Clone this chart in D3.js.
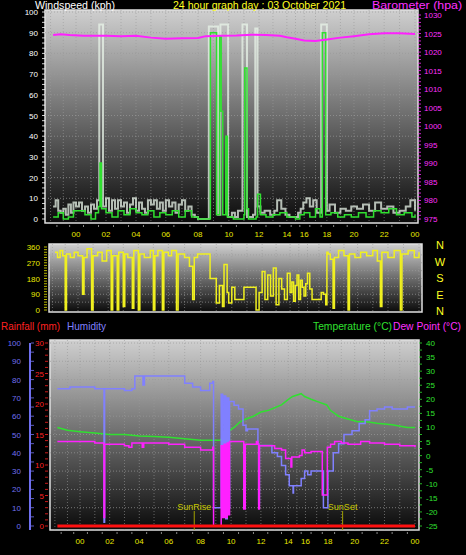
<!DOCTYPE html>
<html><head><meta charset="utf-8">
<script src="https://cdn.jsdelivr.net/npm/d3@7"></script>
<style>
body{margin:0;background:#000;}
svg{display:block;font-family:"Liberation Sans",sans-serif;}
</style></head>
<body>
<svg width="466" height="555"></svg>
<script>
// hour labels along the bottom of each panel
let hourLabels = ["00","02","04","06","08","10","12","14","16","18","20","22","00"];
let hourTicks = [0,2,4,6,8,10,12,14,16,18,20,22,24];
// the original's time axis is not evenly spaced, these are the label fractions
let hourFrac = [0,0.0885,0.177,0.265,0.360,0.451,0.540,0.622,0.673,0.740,0.820,0.909,1];

// windspeed gust (white) and average (green), [hour, kph]
let windGust = [[-1.8,6],[-1.6,9],[-1.4,4],[-1.2,3],[-1,5],[-0.8,2],[-0.6,7],[-0.4,3],[-0.2,8],[0,6],[0.2,8],[0.4,4],[0.6,6],[0.8,3],[1,7],[1.2,5],[1.4,9],[1.55,94],[1.7,94],[1.8,6],[2,10],[2.2,4],[2.4,9],[2.6,5],[2.8,9],[3,6],[3.2,8],[3.4,3],[3.6,7],[3.8,10],[4,4],[4.2,8],[4.4,5],[4.6,3],[4.8,9],[5,7],[5.2,9],[5.4,5],[5.6,8],[5.8,4],[6,9],[6.2,6],[6.4,8],[6.6,3],[6.8,7],[7,9],[7.2,4],[7.4,6],[7.6,2],[7.8,1],[8,0],[8.6,0],[8.7,93],[9.2,93],[9.3,2],[9.45,94],[9.85,94],[9.95,1],[10.2,3],[10.4,1],[10.6,4],[10.9,94],[11.1,94],[11.2,1],[11.6,2],[11.75,92],[11.85,92],[11.9,6],[12.1,3],[12.4,4],[12.8,2],[13.1,4],[13.3,9],[13.6,5],[13.9,2],[14.3,1],[15,1],[15.3,3],[15.6,5],[15.9,8],[16.2,10],[16.5,6],[16.8,9],[17.1,3],[17.5,94],[17.9,94],[18,4],[18.2,7],[18.6,3],[19,5],[19.4,4],[19.8,6],[20.2,5],[20.6,7],[21,4],[21.4,8],[21.8,5],[22.2,6],[22.6,3],[23,4],[23.4,6],[23.7,9],[24,4]];
let windAvg = [[-1.8,1],[-1.4,3],[-1,0],[-0.6,1],[-0.2,4],[0.2,4],[0.6,2],[1,0],[1.3,3],[1.5,6],[1.6,27],[1.7,5],[2,3],[2.4,1],[2.8,4],[3.2,2],[3.6,5],[4,3],[4.4,2],[4.8,4],[5.2,1],[5.6,3],[6,2],[6.4,4],[6.8,1],[7.2,4],[7.6,1],[8,0],[8.75,0],[8.8,90],[9.1,90],[9.2,2],[9.4,88],[9.5,52],[9.6,2],[9.8,40],[9.9,1],[10.3,0],[11,2],[11.05,73],[11.2,5],[11.3,0],[11.8,1],[11.9,12],[12.1,2],[12.5,1],[13,2],[13.5,3],[14,1],[15,0],[15.5,2],[16,3],[16.5,1],[17,5],[17.4,1],[17.6,90],[17.8,90],[17.9,2],[18.3,3],[18.8,1],[19.3,2],[19.8,1],[20.3,3],[20.8,1],[21.3,4],[21.8,3],[22.3,5],[22.8,2],[23.3,3],[23.8,1],[24,2]];
// barometer, [hour, hpa]
let baro = [[-1.8,1024.6],[-1.2,1024.8],[-0.5,1024.6],[0.5,1024.4],[2,1024.4],[3,1024.3],[4,1024.4],[5,1023.9],[6,1023.6],[7,1023.7],[8,1023.8],[8.5,1024.3],[9.5,1024.4],[10.5,1024.5],[11.5,1024.7],[12.5,1024.6],[13.5,1024.4],[14,1024.0],[15,1023.6],[16,1023.1],[17,1023.0],[18,1023.4],[19,1023.9],[20,1024.3],[21,1024.8],[22,1025.1],[23,1025.1],[24,1024.9]];
// wind direction, [hour, degrees]
let windDir = [[-1.8,330],[-1.6,300],[-1.4,340],[-1.2,310],[-1.0,0],[-0.9,320],[-0.6,300],[-0.3,330],[0,310],[0.3,90],[0.4,300],[0.6,350],[0.9,0],[1.0,310],[1.3,330],[1.6,280],[1.9,340],[2.2,0],[2.3,310],[2.6,0],[2.7,330],[3.0,20],[3.1,320],[3.3,300],[3.6,10],[3.7,340],[4.0,0],[4.1,320],[4.4,300],[4.8,340],[5.0,0],[5.1,310],[5.3,340],[5.6,0],[5.7,330],[6.0,310],[6.2,340],[6.5,0],[6.6,320],[7.0,300],[7.3,250],[7.5,60],[7.6,300],[7.8,320],[8.5,320],[8.6,180],[8.9,180],[9.0,40],[9.2,140],[9.4,20],[9.5,260],[9.7,100],[9.8,40],[10.0,130],[10.2,60],[10.5,60],[10.8,130],[11.5,130],[11.6,0],[11.8,100],[12.0,220],[12.2,60],[12.4,200],[12.6,80],[12.8,240],[13.0,30],[13.2,180],[13.4,120],[13.6,60],[13.8,210],[14.0,100],[14.2,160],[14.4,50],[14.6,140],[14.8,200],[15.0,60],[15.2,170],[15.4,130],[15.6,80],[15.8,150],[16.0,210],[16.2,120],[16.4,60],[16.6,60],[17.0,60],[17.2,100],[17.4,90],[17.6,30],[17.7,330],[17.8,320],[18.0,290],[18.2,10],[18.3,300],[18.6,340],[19.0,310],[19.3,0],[19.4,320],[19.8,300],[20.2,330],[20.6,310],[21.0,340],[21.3,280],[21.5,20],[21.6,330],[22.0,300],[22.4,340],[22.8,0],[22.9,320],[23.3,340],[23.7,300],[24.0,330]];
// humidity %, temperature and dew point degC, rainfall mm
let humidity = [[-1.8,75],[-0.8,76],[0.5,76],[1,75],[1.6,75],[1.62,2],[1.66,75],[2.5,75],[3,74],[3.5,75],[3.7,82],[4.2,82],[4.25,77],[4.35,82],[5,82],[6,82],[7,78],[7.5,76],[8,74],[8.3,74],[8.6,78],[8.8,79],[8.85,10],[9.3,10],[9.35,72],[9.45,5],[9.55,71],[9.65,4],[9.75,70],[9.85,10],[9.9,68],[10.2,66],[10.5,64],[10.8,55],[11.0,52],[11.1,53],[11.6,53],[11.8,45],[11.85,12],[11.9,44],[12.4,44],[12.8,40],[13.2,38],[13.5,33],[13.8,28],[14.1,22],[14.5,22],[14.55,18],[14.6,22],[15.2,22],[15.5,26],[15.9,30],[16.2,28],[16.5,30],[17.0,30],[17.55,30],[17.6,10],[17.95,10],[18.0,30],[18.4,40],[18.8,45],[19.2,50],[19.8,52],[20.3,56],[20.7,58],[21.0,63],[21.5,64],[22.0,65],[22.5,64],[23,64],[23.5,65],[24,65]];
let temperature = [[-1.8,10],[-1,9],[0,8.5],[1,8],[2,7.5],[3,7.5],[4,7],[5,6.8],[6,6.5],[7,6],[8,5.5],[9.3,5.5],[9.5,7],[9.8,8.5],[10.2,10],[10.6,12],[11,13],[11.5,14],[12,15.5],[12.5,16],[13,17],[13.5,18],[14,20],[14.5,21],[15.5,22],[15.9,21],[16.5,20],[17.2,19],[17.9,18],[18.2,16],[18.8,14],[19.5,13],[20.2,12],[20.8,12],[21.5,11.5],[22.5,11],[23.5,10],[24,10]];
let dewPoint = [[-1.8,5],[0,5],[1,4.5],[1.6,4],[1.62,-22],[1.66,4],[3,3.5],[3.3,3],[3.5,4.5],[4.1,4.5],[4.2,3],[4.3,4.5],[5,4.5],[6,4],[7,3],[8,2],[8.5,2],[8.8,3],[8.85,-25],[9.3,-25],[9.35,3.5],[9.45,-22],[9.55,4],[9.65,-22],[9.75,4.5],[9.85,-21],[9.9,5],[10.8,5],[10.85,-19],[10.95,4],[11.5,4],[11.7,5],[11.8,4],[11.85,-19],[11.9,3.5],[12.5,3.5],[13,2.5],[13.5,2],[13.8,-1],[14.2,-1],[14.3,-4],[14.4,-0.5],[15.3,0],[15.6,2],[15.9,1],[16.5,1.5],[17.45,1.5],[17.5,-14],[17.9,-14],[17.95,3],[18.2,4],[18.5,5],[19,4.5],[19.5,4],[20.2,4],[20.4,5],[21,4.5],[22,4],[23,3.5],[24,3]];
let rainfall = [[-1.8,0],[24,0]];
let sunEvents = [["SunRise",7.6],["SunSet",19.1]];

let svg = d3.select("svg");
let defs = svg.append("defs");
let grad = defs.append("linearGradient").attr("id","bg").attr("x1",0).attr("x2",0).attr("y1",0).attr("y2",1);
grad.append("stop").attr("offset","0%").attr("stop-color","#cfcfcf");
grad.append("stop").attr("offset","100%").attr("stop-color","#0a0a0a");

// piecewise time scale through the label positions
let timeScale = function(x0, x1) {
  let w = x1 - x0;
  let dom = [-2.1].concat(hourTicks).concat([24.2]);
  let rng = [x0 - 2.1 * w * 0.0375].concat(hourFrac.map(f => x0 + f * w)).concat([x1 + 0.2 * w * 0.0375]);
  return d3.scaleLinear().domain(dom).range(rng);
};

let panel = function(left, top, right, bottom) {
  let g = svg.append("g");
  g.append("rect").attr("x", left).attr("y", top).attr("width", right - left).attr("height", bottom - top)
    .attr("fill", "url(#bg)").attr("stroke", "#e0e0e0").attr("stroke-width", 1.5);
  return g;
};

let hgrid = function(g, y, ticks, left, right) {
  g.selectAll(null).data(ticks).enter().append("line")
    .attr("x1", left).attr("x2", right).attr("y1", d => y(d)).attr("y2", d => y(d))
    .attr("stroke", "#9a9a9a").attr("stroke-dasharray", "1,2").attr("stroke-opacity", 0.7);
};
let vgrid = function(g, x, top, bottom) {
  g.selectAll(null).data(d3.range(-2, 25)).enter().append("line")
    .attr("x1", d => x(d)).attr("x2", d => x(d)).attr("y1", top).attr("y2", bottom)
    .attr("stroke", "#9a9a9a").attr("stroke-dasharray", "1,2").attr("stroke-opacity", 0.6);
};
let xLabels = function(x, y) {
  svg.selectAll(null).data(hourTicks).enter().append("text")
    .attr("x", d => x(d)).attr("y", y).attr("text-anchor", "middle")
    .attr("fill", "#e8e800").attr("font-size", 8).text((d, i) => hourLabels[i]);
  svg.selectAll(null).data(d3.range(-1.5, 24.5, 1)).enter().append("line")
    .attr("x1", d => x(d)).attr("x2", d => x(d)).attr("y1", y - 12).attr("y2", y - 10)
    .attr("stroke", "#888");
};
let yTicks = function(y, ticks, xPos, anchor, color, tickX, tickDir, minor) {
  svg.selectAll(null).data(ticks).enter().append("text")
    .attr("x", xPos).attr("y", d => y(d) + 3).attr("text-anchor", anchor)
    .attr("fill", color).attr("font-size", 8).text(d => d);
  svg.selectAll(null).data(minor).enter().append("line")
    .attr("x1", tickX).attr("x2", tickX + tickDir * 3).attr("y1", d => y(d)).attr("y2", d => y(d))
    .attr("stroke", color).attr("stroke-opacity", 0.8);
};
let header = function(x, y, anchor, color, len, txt) {
  svg.append("text").attr("x", x).attr("y", y).attr("text-anchor", anchor).attr("fill", color)
    .attr("font-size", 11).attr("textLength", len).attr("lengthAdjust", "spacingAndGlyphs").text(txt);
};
let line = (x, y, curve) => d3.line().x(d => x(d[0])).y(d => y(d[1])).curve(curve || d3.curveLinear);

/* ---------- top panel: wind speed and barometer ---------- */
let t = { left: 45, top: 10, right: 418, bottom: 223 };
let gTop = panel(t.left, t.top, t.right, t.bottom);
let xTop = timeScale(76, 415);
let speedScale = d3.scaleLinear().domain([0, 100]).range([219, 12]);
let baroScale = d3.scaleLinear().domain([975, 1030]).range([219, 15]);
hgrid(gTop, speedScale, d3.range(10, 101, 10), t.left, t.right);
vgrid(gTop, xTop, t.top, t.bottom);
gTop.append("path").datum(windGust).attr("d", line(xTop, speedScale, d3.curveStepAfter))
  .attr("fill", "none").attr("stroke", "#e8f4e8").attr("stroke-width", 2).attr("stroke-opacity", 0.75);
gTop.append("path").datum(windAvg).attr("d", line(xTop, speedScale, d3.curveStepAfter))
  .attr("fill", "none").attr("stroke", "#30e030").attr("stroke-width", 1.5);
gTop.append("path").datum(baro).attr("d", line(xTop, baroScale))
  .attr("fill", "none").attr("stroke", "#ff20ff").attr("stroke-width", 2);
yTicks(speedScale, d3.range(0, 101, 10), 38, "end", "#ffffff", 42, 1, d3.range(0, 101, 2.5));
yTicks(baroScale, d3.range(975, 1031, 5), 424, "start", "#ff30ff", 418, 1, d3.range(975, 1031, 1));
xLabels(xTop, 237);
header(35, 9, "start", "#ffffff", 80, "Windspeed (kph)");
header(173, 9, "start", "#ffff20", 173, "24 hour graph day : 03 October 2021");
header(372, 9, "start", "#ff30ff", 90, "Barometer (hpa)");

/* ---------- middle panel: wind direction ---------- */
let m = { left: 49, top: 244, right: 422, bottom: 312 };
let gMid = panel(m.left, m.top, m.right, m.bottom);
let xMid = timeScale(78, 419);
let dirScale = d3.scaleLinear().domain([0, 360]).range([310, 247]);
hgrid(gMid, dirScale, [45, 90, 135, 180, 225, 270, 315], m.left, m.right);
vgrid(gMid, xMid, m.top, m.bottom);
gMid.append("path").datum(windDir).attr("d", line(xMid, dirScale, d3.curveStepAfter))
  .attr("fill", "none").attr("stroke", "#f0f020").attr("stroke-width", 1.5);
yTicks(dirScale, [0, 90, 180, 270, 360], 40, "end", "#e8e800", 44, 1, d3.range(0, 361, 15));
svg.selectAll(null).data(["N", "W", "S", "E", "N"]).enter().append("text")
  .attr("x", 440).attr("y", (d, i) => 249 + i * 16.5).attr("text-anchor", "middle")
  .attr("fill", "#ffff20").attr("font-size", 11).text(d => d);

/* ---------- bottom panel: rain, humidity, temperature, dew point ---------- */
let b = { left: 50, top: 340, right: 419, bottom: 530 };
let gBot = panel(b.left, b.top, b.right, b.bottom);
let xBot = timeScale(80, 415);
let humScale = d3.scaleLinear().domain([0, 100]).range([526, 343]);
let rainScale = d3.scaleLinear().domain([0, 30]).range([526, 343]);
let tempScale = d3.scaleLinear().domain([-25, 40]).range([526, 343]);
hgrid(gBot, humScale, d3.range(10, 101, 10), b.left, b.right);
vgrid(gBot, xBot, b.top, b.bottom);
gBot.selectAll(null).data(sunEvents).enter().append("line")
  .attr("x1", d => xBot(d[1])).attr("x2", d => xBot(d[1])).attr("y1", 511).attr("y2", 530)
  .attr("stroke", "#a0a000");
gBot.selectAll(null).data(sunEvents).enter().append("text")
  .attr("x", d => xBot(d[1])).attr("y", 510).attr("text-anchor", "middle")
  .attr("fill", "#c8c800").attr("font-size", 9).text(d => d[0]);
gBot.append("path").datum(temperature).attr("d", line(xBot, tempScale))
  .attr("fill", "none").attr("stroke", "#30e030").attr("stroke-width", 1.5);
gBot.append("path").datum(humidity).attr("d", line(xBot, humScale, d3.curveStepAfter))
  .attr("fill", "none").attr("stroke", "#8080ff").attr("stroke-width", 1.5);
gBot.append("path").datum(dewPoint).attr("d", line(xBot, tempScale, d3.curveStepAfter))
  .attr("fill", "none").attr("stroke", "#ff20ff").attr("stroke-width", 1.5);
gBot.append("path").datum(rainfall).attr("d", line(xBot, rainScale))
  .attr("fill", "none").attr("stroke", "#ff1010").attr("stroke-width", 3);
svg.append("line").attr("x1", 30).attr("x2", 30).attr("y1", 343).attr("y2", 530).attr("stroke", "#7070f0").attr("stroke-width", 2);
yTicks(humScale, d3.range(0, 101, 10), 21, "end", "#7070f0", 31, 1, d3.range(0, 101, 5));
yTicks(rainScale, d3.range(0, 31, 5), 44, "end", "#ff2020", 45, 1, d3.range(0, 31, 1));
yTicks(tempScale, d3.range(-25, 41, 5), 426, "start", "#30e030", 419, 1, d3.range(-25, 41, 2.5));
xLabels(xBot, 544);
header(1, 330, "start", "#ff2020", 59, "Rainfall (mm)");
header(67, 330, "start", "#8080ff", 39, "Humidity");
header(313, 330, "start", "#30e030", 79, "Temperature (°C)");
header(393, 330, "start", "#ff30ff", 68, "Dew Point (°C)");
</script>
</body></html>
